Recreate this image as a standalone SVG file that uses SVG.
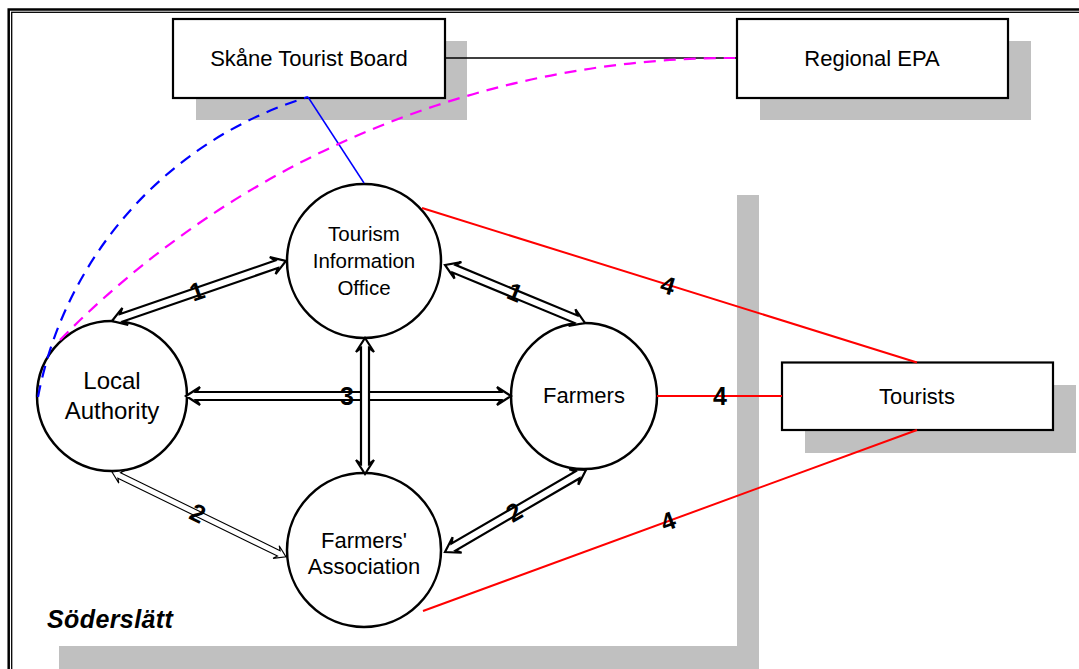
<svg xmlns="http://www.w3.org/2000/svg" width="1079" height="669" viewBox="0 0 1079 669">
<style>
.shadow{fill:#c0c0c0;stroke:none}
.box{fill:#fff;stroke:#000;stroke-width:2.2}
.circ{fill:#fff;stroke:#000;stroke-width:2.5}
.t{font-family:"Liberation Sans",Arial,sans-serif;fill:#000;text-anchor:middle}
.arr{fill:#fff;stroke:#000;stroke-width:2.2;stroke-linejoin:miter}
.arrthin{fill:#fff;stroke:#000;stroke-width:1.1}
.num{font-family:"Liberation Sans",Arial,sans-serif;font-weight:bold;font-size:25px;text-anchor:middle;fill:#000}
.red{stroke:#ff0000;stroke-width:2;fill:none}
</style>
<rect width="1079" height="669" fill="#fff"/>
<g id="border" fill="none" stroke="#000">
<rect x="8.7" y="9.5" width="1100" height="700" stroke-width="2.5"/>
<rect x="11.7" y="12.3" width="1100" height="700" stroke-width="1.3"/>
</g>
<g id="shadows">
<rect class="shadow" x="196" y="41" width="271" height="79"/>
<rect class="shadow" x="760" y="41" width="271" height="79"/>
<rect class="shadow" x="805" y="385" width="271" height="68"/>
<rect class="shadow" x="737" y="195" width="22" height="480"/>
<rect class="shadow" x="59" y="646" width="700" height="30"/>
</g>
<text x="47" y="628" style="font-family:'Liberation Sans',Arial,sans-serif;font-weight:bold;font-style:italic;font-size:25px;letter-spacing:0.4px">Söderslätt</text>
<g id="nodes">
<g id="node-skane">
<rect class="box" x="173" y="19" width="272" height="79"/>
<text class="t" x="309" y="66" font-size="22">Skåne Tourist Board</text>
</g>
<g id="node-epa">
<rect class="box" x="737" y="19" width="271" height="79"/>
<text class="t" x="872" y="66" font-size="22">Regional EPA</text>
</g>
<g id="node-tourists">
<rect class="box" x="782" y="362.5" width="271" height="67.5"/>
<text class="t" x="917" y="404" font-size="22">Tourists</text>
</g>
<g id="node-tio">
<circle class="circ" cx="364" cy="261" r="77"/>
<text class="t" x="364" y="241" font-size="20.5">Tourism</text>
<text class="t" x="364" y="268" font-size="20.5">Information</text>
<text class="t" x="364" y="295" font-size="20.5">Office</text>
</g>
<g id="node-local">
<circle class="circ" cx="112" cy="396" r="75"/>
<text class="t" x="112" y="389" font-size="24">Local</text>
<text class="t" x="112" y="419" font-size="24">Authority</text>
</g>
<g id="node-farmers">
<circle class="circ" cx="584" cy="396" r="73"/>
<text class="t" x="584" y="403" font-size="22">Farmers</text>
</g>
<g id="node-assoc">
<circle class="circ" cx="364" cy="550" r="77"/>
<text class="t" x="364" y="548" font-size="22">Farmers'</text>
<text class="t" x="364" y="574" font-size="22">Association</text>
</g>
</g>
<g id="connectors">
<line x1="445" y1="58" x2="737" y2="58" stroke="#000" stroke-width="1.5"/>
<line x1="308" y1="97" x2="364" y2="183" stroke="#0000ff" stroke-width="1.5"/>
<path d="M38,397 A390,390 0 0 1 308,97" fill="none" stroke="#0000ff" stroke-width="2.2" stroke-dasharray="12,8"/>
<path d="M60,340 A940,940 0 0 1 735,58" fill="none" stroke="#ff00ff" stroke-width="2.2" stroke-dasharray="12,8"/>
<line class="red" x1="422" y1="208" x2="917" y2="362.5"/>
<line class="red" x1="657" y1="396" x2="782" y2="396"/>
<line class="red" x1="423" y1="611" x2="917" y2="430"/>
<path class="arr" transform="translate(112,321) rotate(-19.03)" d="M0,0 L14,-9 L10,-4 L174,-4 L170,-9 L184,0 L170,9 L174,4 L10,4 L14,9 Z"/>
<path class="arr" transform="translate(445,265) rotate(22.5)" d="M0,0 L14,-9 L10,-4 L141.5,-4 L137.5,-9 L151.5,0 L137.5,9 L141.5,4 L10,4 L14,9 Z"/>
<path class="arr" d="M186,396 L200,387 L196,392 L501,392 L497,387 L511,396 L497,405 L501,400 L196,400 L200,405 Z"/>
<path class="arr" d="M365,338 L374,352 L369,348 L369,464 L374,460 L365,474 L356,460 L361,464 L361,348 L356,352 Z"/>
<path class="arrthin" transform="translate(112,472) rotate(26)" d="M0,0 L11,-7 L8,-3 L185.6,-3 L182.6,-7 L193.6,0 L182.6,7 L185.6,3 L8,3 L11,7 Z"/>
<path class="arr" transform="translate(445,552) rotate(-30.2)" d="M0,0 L14,-9 L10,-4 L153.1,-4 L149.1,-9 L163.1,0 L149.1,9 L153.1,4 L10,4 L14,9 Z"/>
<text class="num" transform="translate(197,291) rotate(-19)" y="9">1</text>
<text class="num" transform="translate(515,292) rotate(22.5)" y="9">1</text>
<text class="num" transform="translate(347,396)" y="9">3</text>
<text class="num" transform="translate(198,513) rotate(26)" y="9">2</text>
<text class="num" transform="translate(514,512) rotate(-30)" y="9">2</text>
<text class="num" transform="translate(668,285) rotate(17.4)" y="9">4</text>
<text class="num" transform="translate(720,396)" y="9">4</text>
<text class="num" transform="translate(668,521) rotate(-20)" y="9">4</text>
</g>
</svg>
